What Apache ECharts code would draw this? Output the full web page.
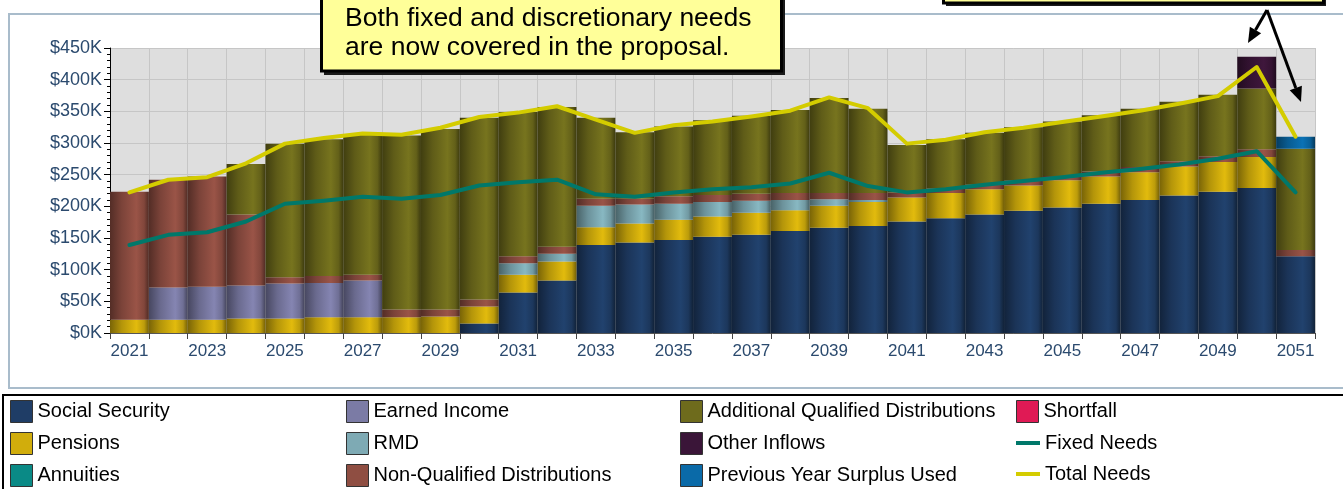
<!DOCTYPE html>
<html>
<head>
<meta charset="utf-8">
<script src="https://cdn.jsdelivr.net/npm/echarts@6/dist/echarts.min.js"></script>
<style>
  html, body { margin: 0; padding: 0; background: #ffffff; }
  #chart { width: 1343px; height: 489px; }
</style>
</head>
<body>
<div id="chart"></div>
<script>
// Annual income sources and spending needs, in thousands of dollars
const years = ['2021','2022','2023','2024','2025','2026','2027','2028','2029','2030',
  '2031','2032','2033','2034','2035','2036','2037','2038','2039','2040',
  '2041','2042','2043','2044','2045','2046','2047','2048','2049','2050','2051'];

const socialSecurity = [0,0,0,0,0,0,0,0,0,15,64,83,139,143,147,152,155,161,166,169,176,181,187,193,198,204,210,217,223,229,121];
const pensions       = [21,21,21,23,23,25,25,25,26,27,28,30,28,30,32,32,35,33,35,38,38,40,40,40,43,43,44,46,47,49,0];
const annuities      = [0,0,0,0,0,0,0,0,0,0,0,0,0,0,0,0,0,0,0,0,0,0,0,0,0,0,0,0,0,0,0];
const earnedIncome   = [0,51,52,52,55,54,58,0,0,0,0,0,0,0,0,0,0,0,0,0,0,0,0,0,0,0,0,0,0,0,0];
const rmd            = [0,0,0,0,0,0,0,0,0,0,18,12,34,30,25,23,19,16,10,3,0,0,0,0,0,0,0,0,0,0,0];
const nonQualified   = [202,170,174,112,10,11,9,12,11,11,11,11,11,9,12,11,11,11,10,11,8,7,7,8,7,8,8,8,9,12,10];
const addQualified   = [0,0,0,80,211,216,221,275,285,287,228,221,128,105,110,118,123,131,150,133,75,78,82,84,86,89,92,94,97,96,160];
const otherInflows   = [0,0,0,0,0,0,0,0,0,0,0,0,0,0,0,0,0,0,0,0,0,0,0,0,0,0,0,0,0,50,0];
const prevSurplus    = [0,0,0,0,0,0,0,0,0,0,0,0,0,0,0,0,0,0,0,0,0,0,0,0,0,0,0,0,0,0,19];
const shortfall      = [0,0,0,0,0,0,0,0,0,0,0,0,0,0,0,0,0,0,0,0,0,0,0,0,0,0,0,0,0,0,0];
const fixedNeeds     = [139,155,159,176,204,209,215,212,218,233,238,242,219,215,222,227,230,236,253,232,222,227,234,240,246,253,259,266,275,287,222];
const totalNeeds     = [222,242,246,268,299,308,315,313,324,341,348,358,337,316,328,334,342,351,372,355,299,305,317,324,333,342,351,362,374,420,310];

const FONT = '"Liberation Sans", Arial, Helvetica, sans-serif';
const AXIS_TEXT = '#2b4a6e';

function shade(hex, f) {
  const n = parseInt(hex.slice(1), 16);
  const ch = [(n >> 16) & 255, (n >> 8) & 255, n & 255].map(function (c) {
    return Math.max(0, Math.min(255, Math.round(c * f)));
  });
  return 'rgb(' + ch.join(',') + ')';
}

// Horizontal shading that gives each column a rounded, cylinder-like look
function cylinder(hex) {
  return new echarts.graphic.LinearGradient(0, 0, 1, 0, [
    { offset: 0, color: shade(hex, 0.58) },
    { offset: 0.3, color: shade(hex, 0.86) },
    { offset: 0.68, color: shade(hex, 1.08) },
    { offset: 0.88, color: shade(hex, 0.9) },
    { offset: 1, color: shade(hex, 0.55) }
  ]);
}

const barSeries = [
  { name: 'Social Security', data: socialSecurity, color: '#1f3d66' },
  { name: 'Pensions', data: pensions, color: '#d1ad0c' },
  { name: 'Annuities', data: annuities, color: '#0a8a86' },
  { name: 'Earned Income', data: earnedIncome, color: '#7b7ba5' },
  { name: 'RMD', data: rmd, color: '#7eaab4' },
  { name: 'Non-Qualified Distributions', data: nonQualified, color: '#8f4e42' },
  { name: 'Additional Qualified Distributions', data: addQualified, color: '#6e6b1c' },
  { name: 'Other Inflows', data: otherInflows, color: '#3a1538' },
  { name: 'Previous Year Surplus Used', data: prevSurplus, color: '#0a6aa8' },
  { name: 'Shortfall', data: shortfall, color: '#e01a55' }
];
const flat = {};
barSeries.forEach(function (s) { flat[s.name] = s.color; });

const series = barSeries.map(function (s) {
  return {
    name: s.name,
    type: 'bar',
    stack: 'income',
    data: s.data,
    barWidth: '100%',
    barCategoryGap: '0%',
    itemStyle: { color: cylinder(s.color) },
    emphasis: { disabled: true }
  };
});
series.push({
  name: 'Fixed Needs', type: 'line', data: fixedNeeds, symbol: 'none', z: 5,
  lineStyle: { color: '#00786a', width: 4, cap: 'round', join: 'round' },
  itemStyle: { color: '#00786a' }
});
series.push({
  name: 'Total Needs', type: 'line', data: totalNeeds, symbol: 'none', z: 6,
  lineStyle: { color: '#d4cc00', width: 4, cap: 'round', join: 'round' },
  itemStyle: { color: '#d4cc00' }
});

function legendBlock(names, left, top) {
  return {
    orient: 'vertical', left: left, top: top, padding: 0,
    itemWidth: 22, itemHeight: 22, itemGap: 9, icon: 'rect',
    selectedMode: false,
    itemStyle: { borderColor: '#333', borderWidth: 1 },
    textStyle: { fontFamily: FONT, fontSize: 20, color: '#000', lineHeight: 22 },
    data: names.map(function (n) { return { name: n, itemStyle: { color: flat[n] } }; })
  };
}

function arrow(x1, y1, x2, y2) {
  const dx = x2 - x1, dy = y2 - y1;
  const len = Math.sqrt(dx * dx + dy * dy);
  const ux = dx / len, uy = dy / len;
  const head = 15, half = 6.5;
  const bx = x2 - ux * head, by = y2 - uy * head;
  return [
    { type: 'line', silent: true, z: 20,
      shape: { x1: x1, y1: y1, x2: bx, y2: by },
      style: { stroke: '#000', lineWidth: 3 } },
    { type: 'polygon', silent: true, z: 20,
      shape: { points: [[x2, y2], [bx - uy * half, by + ux * half], [bx + uy * half, by - ux * half]] },
      style: { fill: '#000' } }
  ];
}

const option = {
  animation: false,
  backgroundColor: '#ffffff',
  textStyle: { fontFamily: FONT },
  grid: {
    left: 110, right: 28, top: 48, bottom: 156,
    show: true, backgroundColor: '#dedede', borderWidth: 0
  },
  xAxis: {
    type: 'category',
    data: years,
    boundaryGap: true,
    axisLine: { show: true, lineStyle: { color: '#555', width: 1 } },
    axisTick: { show: true, interval: 0, length: 6, lineStyle: { color: '#444' } },
    axisLabel: { interval: 1, color: AXIS_TEXT, fontSize: 17, fontFamily: FONT, margin: 10 },
    splitLine: { show: true, interval: 0, lineStyle: { color: '#c6c6c6', width: 1 } }
  },
  yAxis: {
    type: 'value',
    min: 0, max: 450, interval: 50,
    axisLine: { show: true, lineStyle: { color: '#000', width: 1 } },
    axisTick: { show: true, length: 6, lineStyle: { color: '#000' } },
    minorTick: { show: true, splitNumber: 5, length: 3, lineStyle: { color: '#000' } },
    axisLabel: {
      color: AXIS_TEXT, fontSize: 18, fontFamily: FONT, margin: 8,
      formatter: function (v) { return '$' + v + 'K'; }
    },
    splitLine: { show: true, lineStyle: { color: '#c6c6c6', width: 1 } }
  },
  legend: [
    legendBlock(['Social Security', 'Pensions', 'Annuities'], 10, 400),
    legendBlock(['Earned Income', 'RMD', 'Non-Qualified Distributions'], 346, 400),
    legendBlock(['Additional Qualified Distributions', 'Other Inflows', 'Previous Year Surplus Used'], 680, 400),
    legendBlock(['Shortfall'], 1016, 400),
    {
      orient: 'vertical', left: 1016, top: 432, padding: 0,
      itemWidth: 24, itemHeight: 4, itemGap: 9, selectedMode: false,
      textStyle: { fontFamily: FONT, fontSize: 20, color: '#000', lineHeight: 22 },
      data: [
        { name: 'Fixed Needs', icon: 'rect', itemStyle: { color: '#00786a' } },
        { name: 'Total Needs', icon: 'rect', itemStyle: { color: '#d4cc00' } }
      ]
    }
  ],
  series: series,
  graphic: [
    // chart frame
    { type: 'rect', silent: true, z: -10,
      shape: { x: 9, y: 14, width: 1400, height: 374 },
      style: { fill: 'none', stroke: '#a9bccb', lineWidth: 2 } },
    // legend frame
    { type: 'polyline', silent: true, z: -10,
      shape: { points: [[3, 500], [3, 395], [1400, 395]] },
      style: { fill: null, stroke: '#000', lineWidth: 2 } },
    // callout: proposal note
    { type: 'rect', silent: true, z: 15,
      shape: { x: 324, y: -10, width: 461, height: 85 },
      style: { fill: '#1a1a1a' } },
    { type: 'rect', silent: true, z: 16,
      shape: { x: 321.5, y: -10, width: 460, height: 81 },
      style: { fill: '#ffff99', stroke: '#000', lineWidth: 3 } },
    { type: 'text', silent: true, z: 17, x: 345, y: 4,
      style: {
        text: 'Both fixed and discretionary needs\nare now covered in the proposal.',
        font: '26.5px ' + FONT, lineHeight: 29, fill: '#000'
      } },
    // callout: year-end note (mostly above the page)
    { type: 'rect', silent: true, z: 15,
      shape: { x: 946, y: -40, width: 380, height: 46 },
      style: { fill: '#1a1a1a' } },
    { type: 'rect', silent: true, z: 16,
      shape: { x: 943.5, y: -40, width: 380, height: 43 },
      style: { fill: '#ffff99', stroke: '#000', lineWidth: 3 } }
  ].concat(arrow(1267, 10, 1248, 43), arrow(1267, 10, 1301, 102))
};

const chart = echarts.init(document.getElementById('chart'), null, { renderer: 'canvas' });
chart.setOption(option);
</script>
</body>
</html>
